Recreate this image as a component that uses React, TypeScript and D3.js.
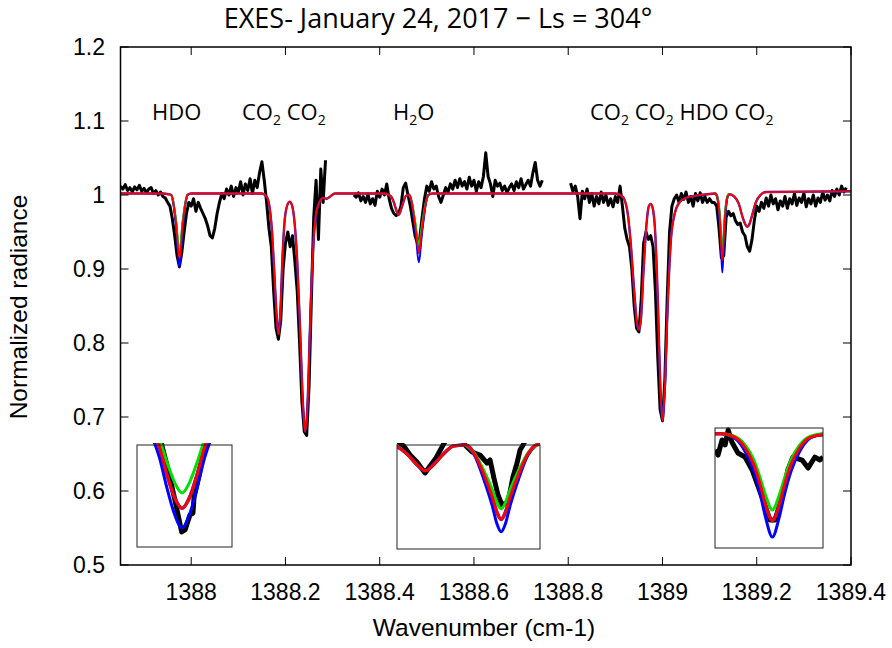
import React from 'react';
import * as d3 from 'd3';

const W = 892;
const H = 648;

// ---------- axis ticks ----------
const xTickValues = [1388, 1388.2, 1388.4, 1388.6, 1388.8, 1389, 1389.2, 1389.4];
const xTickLabels = ['1388', '1388.2', '1388.4', '1388.6', '1388.8', '1389', '1389.2', '1389.4'];
const yTickValues = [0.5, 0.6, 0.7, 0.8, 0.9, 1.0, 1.1, 1.2];
const yTickLabels = ['0.5', '0.6', '0.7', '0.8', '0.9', '1', '1.1', '1.2'];

// ---------- observed spectrum (black), three segments, sampled every 0.005 cm-1 ----------
const obsStep = 0.005;
const obsStarts = [1387.85, 1388.345, 1388.805];
const obsSeg1 = [
  1.012, 1.008, 1.014, 1.006, 1.010, 1.004, 1.011, 1.007, 1.013, 1.005,
  1.009, 1.003, 1.008, 1.010, 1.002, 1.006, 1.000, 1.004, 0.998, 0.996,
  0.990, 0.985, 0.968, 0.945, 0.918, 0.903, 0.922, 0.950, 0.975, 0.990,
  0.985, 0.995, 0.978, 0.990, 0.982, 0.975, 0.968, 0.958, 0.945, 0.942,
  0.955, 0.975, 0.990, 1.002, 0.995, 1.008, 1.000, 1.012, 0.998, 1.010,
  1.004, 1.018, 1.000, 1.015, 1.006, 1.022, 1.002, 1.020, 1.010, 1.030,
  1.045, 1.020, 0.990, 0.955, 0.930, 0.870, 0.820, 0.805, 0.830, 0.900,
  0.935, 0.950, 0.930, 0.945, 0.910, 0.870, 0.800, 0.720, 0.680, 0.675,
  0.740, 0.860, 0.970, 1.020, 0.940, 1.035, 0.990, 1.047,
];
const obsSeg2 = [
  1.000, 0.997, 1.003, 0.992, 0.998, 0.990, 1.001, 0.988, 0.995, 0.986,
  1.005, 0.997, 1.008, 1.000, 1.015, 0.995, 0.982, 0.975, 0.972, 0.975,
  0.985, 1.010, 1.016, 1.000, 0.985, 0.965, 0.945, 0.935, 0.942, 0.970,
  0.995, 1.012, 1.005, 1.018, 1.008, 1.012, 0.998, 0.990, 1.000, 1.010,
  1.004, 1.015, 1.008, 1.020, 1.010, 1.022, 1.012, 1.018, 1.008, 1.024,
  1.012, 1.020, 1.005, 1.018, 1.010, 1.025, 1.057, 1.025, 1.015, 0.998,
  1.020, 1.012, 1.016, 1.006, 1.012, 1.003, 1.010, 1.015, 1.006, 1.018,
  1.010, 1.022, 1.008, 1.014, 1.020, 1.012, 1.030, 1.044, 1.020, 1.012,
  1.020,
];
const obsSeg3 = [
  1.016, 1.005, 1.012, 0.998, 0.968, 1.005, 0.995, 1.008, 0.990, 1.002,
  0.985, 0.998, 0.988, 1.004, 0.990, 1.000, 0.986, 0.995, 0.984, 0.998,
  0.990, 1.012, 0.985, 0.955, 0.940, 0.930, 0.900, 0.850, 0.820, 0.815,
  0.860, 0.935, 0.950, 0.940, 0.945, 0.930, 0.870, 0.780, 0.710, 0.695,
  0.750, 0.860, 0.950, 0.985, 0.995, 1.000, 0.990, 1.002, 0.994, 1.004,
  0.990, 0.998, 0.985, 1.002, 0.992, 1.003, 0.990, 0.998, 0.990, 0.995,
  0.990, 0.990, 0.985, 0.955, 0.915, 0.918, 0.970, 0.978, 0.972, 0.975,
  0.965, 0.960, 0.962, 0.950, 0.945, 0.930, 0.924, 0.940, 0.966, 0.985,
  0.978, 0.990, 0.982, 0.996, 0.985, 1.000, 0.988, 0.995, 0.980, 0.992,
  0.985, 0.998, 0.982, 0.995, 0.988, 1.002, 0.986, 0.996, 0.990, 1.003,
  0.984, 0.995, 0.988, 1.000, 0.985, 0.996, 0.990, 1.004, 0.993, 1.000,
  0.992, 1.006, 0.998, 1.008, 1.000, 1.012, 1.004, 1.010,
];

// ---------- observed spectrum at full resolution inside the three zoom boxes ----------
const zoomObs1: [number, number][] = [
  [1387.9665, 0.975], [1387.9696, 0.9565], [1387.9713, 0.94], [1387.9731, 0.9204], [1387.9749, 0.8994],
  [1387.9758, 0.9007], [1387.9771, 0.9105], [1387.9779, 0.9118], [1387.9782, 0.9223],
  [1387.9798, 0.9401], [1387.9811, 0.9565], [1387.983, 0.975],
];
const zoomObs2: [number, number][] = [
  [1388.424, 1.004], [1388.4278, 0.999], [1388.4314, 0.9895], [1388.4353, 0.9822], [1388.4399, 0.9707],
  [1388.4427, 0.978], [1388.4461, 0.9864], [1388.4501, 1.0], [1388.452, 1.006],
  [1388.461, 1.006], [1388.4625, 1.0], [1388.4665, 0.9927], [1388.471, 0.9895], [1388.475, 0.9811],
  [1388.4767, 0.9843], [1388.4789, 0.9654], [1388.4812, 0.9476], [1388.4835, 0.9371],
  [1388.4869, 0.9403], [1388.4897, 0.9665], [1388.492, 0.9811], [1388.4937, 0.9948],
  [1388.4954, 1.0], [1388.497, 1.006],
];
const zoomObs3: [number, number][] = [
  [1389.11, 0.9852], [1389.1109, 0.98], [1389.1121, 0.9956], [1389.113, 0.9904], [1389.1139, 1.0059],
  [1389.115, 0.9935], [1389.1168, 0.9821], [1389.1189, 0.9779], [1389.121, 0.9645],
  [1389.1239, 0.9365], [1389.1263, 0.9126], [1389.1278, 0.9126], [1389.1299, 0.9365],
  [1389.1316, 0.9645], [1389.1331, 0.9779], [1389.1358, 0.9748], [1389.1376, 0.9665],
  [1389.1396, 0.9779], [1389.1411, 0.9748], [1389.142, 0.9779],
];

// ---------- model (red), [wavenumber, radiance] ----------
const modelRed: [number, number][] = [
  [1387.85, 1.002], [1387.94, 1.002], [1387.952, 1.001],
  [1387.958, 1.0], [1387.962, 0.99], [1387.966, 0.972], [1387.969, 0.955], [1387.971, 0.937],
  [1387.973, 0.922], [1387.975, 0.915], [1387.977, 0.922], [1387.979, 0.937], [1387.981, 0.955],
  [1387.984, 0.972], [1387.988, 0.99], [1387.992, 1.0], [1388.0, 1.002],
  [1388.15, 1.002], [1388.16, 0.998], [1388.166, 0.985], [1388.171, 0.955], [1388.176, 0.9],
  [1388.181, 0.84], [1388.185, 0.812], [1388.189, 0.84], [1388.194, 0.92], [1388.199, 0.97],
  [1388.205, 0.988], [1388.209, 0.991], [1388.214, 0.986], [1388.219, 0.965], [1388.225, 0.91],
  [1388.231, 0.82], [1388.237, 0.72], [1388.242, 0.68], [1388.247, 0.72], [1388.252, 0.82],
  [1388.258, 0.92], [1388.264, 0.97], [1388.272, 0.99], [1388.28, 0.996], [1388.287, 0.995],
  [1388.295, 0.998], [1388.305, 1.002],
  [1388.41, 1.002], [1388.424, 0.998], [1388.43, 0.99], [1388.435, 0.98], [1388.44, 0.973],
  [1388.445, 0.98], [1388.45, 0.99], [1388.456, 0.999], [1388.463, 1.0],
  [1388.468, 0.99], [1388.473, 0.97], [1388.478, 0.945], [1388.4805, 0.93], [1388.483, 0.922],
  [1388.4855, 0.93], [1388.488, 0.945], [1388.493, 0.97], [1388.498, 0.99], [1388.503, 1.0],
  [1388.512, 1.002],
  [1388.9, 1.002], [1388.915, 0.998], [1388.925, 0.98], [1388.932, 0.94], [1388.94, 0.87],
  [1388.946, 0.826], [1388.95, 0.818], [1388.954, 0.83], [1388.96, 0.9], [1388.966, 0.96],
  [1388.971, 0.985], [1388.975, 0.988], [1388.979, 0.983], [1388.984, 0.955], [1388.99, 0.86],
  [1388.995, 0.75], [1389.0, 0.695], [1389.005, 0.74], [1389.011, 0.85], [1389.018, 0.94],
  [1389.026, 0.975], [1389.036, 0.99], [1389.05, 0.996], [1389.07, 0.999], [1389.095, 1.001],
  [1389.112, 1.002],
  [1389.116, 0.998], [1389.119, 0.987], [1389.1215, 0.97], [1389.1235, 0.948], [1389.125, 0.928],
  [1389.127, 0.912], [1389.129, 0.928], [1389.1305, 0.948], [1389.1325, 0.97], [1389.135, 0.987],
  [1389.138, 0.998], [1389.142, 1.001],
  [1389.152, 0.998], [1389.162, 0.988], [1389.17, 0.97], [1389.176, 0.96], [1389.18, 0.957],
  [1389.184, 0.96], [1389.19, 0.972], [1389.198, 0.99], [1389.208, 1.0], [1389.22, 1.004],
  [1389.4, 1.005],
];

// ---------- alternative models at the HDO / H2O lines ----------
const dipWaves1 = [1387.958, 1387.962, 1387.966, 1387.969, 1387.971, 1387.973, 1387.975, 1387.977, 1387.979, 1387.981, 1387.984, 1387.988, 1387.992];
const greenDip1 = [1.0, 0.991, 0.975, 0.96, 0.945, 0.932, 0.925, 0.932, 0.945, 0.96, 0.975, 0.991, 1.0];
const blueDip1 = [1.0, 0.989, 0.968, 0.948, 0.928, 0.911, 0.902, 0.911, 0.928, 0.948, 0.968, 0.989, 1.0];

const dipWaves2 = [1388.463, 1388.468, 1388.473, 1388.478, 1388.4805, 1388.483, 1388.4855, 1388.488, 1388.493, 1388.498, 1388.503];
const greenDip2 = [1.0, 0.991, 0.974, 0.953, 0.94, 0.933, 0.94, 0.953, 0.974, 0.991, 1.0];
const blueDip2 = [1.0, 0.989, 0.965, 0.936, 0.918, 0.909, 0.918, 0.936, 0.965, 0.989, 1.0];

const dipWaves3 = [1389.112, 1389.116, 1389.119, 1389.1215, 1389.1235, 1389.125, 1389.127, 1389.129, 1389.1305, 1389.1325, 1389.135, 1389.138, 1389.142];
const greenDip3 = [1.002, 0.999, 0.99, 0.975, 0.955, 0.938, 0.923, 0.938, 0.955, 0.975, 0.99, 0.999, 1.002];
const blueDip3 = [1.002, 0.997, 0.983, 0.963, 0.938, 0.915, 0.895, 0.915, 0.938, 0.963, 0.983, 0.997, 1.002];

// ---------- species labels: [text, subscript] ----------
const speciesGroups: { x: number; parts: [string, string][] }[] = [
  { x: 152, parts: [['HDO', '']] },
  { x: 242, parts: [['CO', '2'], [' CO', '2']] },
  { x: 393, parts: [['H', '2'], ['O', '']] },
  { x: 590, parts: [['CO', '2'], [' CO', '2'], [' HDO', ''], [' CO', '2']] },
];

// ---------- layout ----------
const plot = { left: 120.5, right: 851, top: 47, bottom: 565 };
const insets = [
  { x0: 137, x1: 232, y0: 445, y1: 547, w: [1387.963, 1387.9883], v: [0.8895, 0.9565] },
  { x0: 397, x1: 540, y0: 445, y1: 549, w: [1388.424, 1388.505], v: [0.891, 1.0] },
  { x0: 715, x1: 823, y0: 428, y1: 548, w: [1389.110, 1389.142], v: [0.8836, 1.008] },
];

const sans = '"Liberation Sans", Arial, Helvetica, sans-serif';
const labelFont = '"Open Sans", "Noto Sans", sans-serif';

function segPoints(start: number, vals: number[]): [number, number][] {
  return vals.map((v, i) => [start + i * obsStep, v] as [number, number]);
}

export default function App() {
  const x = d3.scaleLinear().domain([1387.85, 1389.4]).range([plot.left, plot.right]);
  const y = d3.scaleLinear().domain([0.5, 1.2]).range([plot.bottom, plot.top]);

  const obsSegs = [
    segPoints(obsStarts[0], obsSeg1),
    segPoints(obsStarts[1], obsSeg2),
    segPoints(obsStarts[2], obsSeg3),
  ];
  const zoomObs = [zoomObs1, zoomObs2, zoomObs3];
  const waves = [dipWaves1, dipWaves2, dipWaves3];
  const greens = [greenDip1, greenDip2, greenDip3].map((g, k) => g.map((v, i) => [waves[k][i], v] as [number, number]));
  const blues = [blueDip1, blueDip2, blueDip3].map((b, k) => b.map((v, i) => [waves[k][i], v] as [number, number]));

  const mkLine = (sx: d3.ScaleLinear<number, number>, sy: d3.ScaleLinear<number, number>, smooth: boolean) =>
    d3.line<[number, number]>().x(d => sx(d[0])).y(d => sy(d[1])).curve(smooth ? d3.curveMonotoneX : d3.curveLinear);

  const renderCurves = (sx: any, sy: any, obs: [number, number][][], obsW: number, modW: number, keyp: string) => {
    const lo = mkLine(sx, sy, false);
    const lm = mkLine(sx, sy, true);
    return (
      <g>
        {obs.map((s, i) => (
          <path key={keyp + 'o' + i} d={lo(s) || ''} fill="none" stroke="#000" strokeWidth={obsW} strokeLinejoin="round" />
        ))}
        <path d={lm(modelRed) || ''} fill="none" stroke="#2020d0" strokeWidth={modW + 0.6} />
        {blues.map((b, i) => (
          <path key={keyp + 'b' + i} d={lm(b) || ''} fill="none" stroke="#0000ff" strokeWidth={modW} />
        ))}
        {greens.map((g, i) => (
          <path key={keyp + 'g' + i} d={lm(g) || ''} fill="none" stroke="#00e000" strokeWidth={modW} />
        ))}
        <path d={lm(modelRed) || ''} fill="none" stroke="#ff0000" strokeWidth={modW} />
      </g>
    );
  };

  return (
    <svg width={W} height={H} style={{ position: 'absolute', left: 0, top: 0, background: '#fff' }}>
      <defs>
        <clipPath id="plotClip">
          <rect x={plot.left} y={plot.top} width={plot.right - plot.left} height={plot.bottom - plot.top} />
        </clipPath>
        {insets.map((b, i) => (
          <clipPath id={'inset' + i} key={'c' + i}>
            <rect x={b.x0} y={b.y0 - 2} width={b.x1 - b.x0} height={b.y1 - b.y0 + 2} />
          </clipPath>
        ))}
      </defs>

      <text x={438} y={28} textAnchor="middle" fontFamily={labelFont} fontSize={27}>
        EXES- January 24, 2017 − Ls = 304°
      </text>

      <g clipPath="url(#plotClip)">{renderCurves(x, y, obsSegs, 3, 1.8, 'm')}</g>

      {insets.map((b, i) => {
        const sx = d3.scaleLinear().domain(b.w).range([b.x0, b.x1]);
        const sy = d3.scaleLinear().domain(b.v).range([b.y1, b.y0]);
        return (
          <g key={'in' + i}>
            <rect x={b.x0} y={b.y0} width={b.x1 - b.x0} height={b.y1 - b.y0} fill="#fff" stroke="none" />
            <g clipPath={`url(#inset${i})`}>{renderCurves(sx, sy, [zoomObs[i]], 5, 3, 'i' + i)}</g>
            <rect x={b.x0} y={b.y0} width={b.x1 - b.x0} height={b.y1 - b.y0} fill="none" stroke="#222" strokeWidth={1} />
          </g>
        );
      })}

      {/* frame */}
      <rect x={plot.left} y={plot.top} width={plot.right - plot.left} height={plot.bottom - plot.top} fill="none" stroke="#000" strokeWidth={1.5} />
      {xTickValues.map((t, i) => (
        <g key={'xt' + i}>
          <line x1={x(t)} x2={x(t)} y1={plot.bottom} y2={plot.bottom - 8} stroke="#000" strokeWidth={1} />
          <line x1={x(t)} x2={x(t)} y1={plot.top} y2={plot.top + 8} stroke="#000" strokeWidth={1} />
          <text x={x(t)} y={600} textAnchor="middle" fontFamily={sans} fontSize={23}>{xTickLabels[i]}</text>
        </g>
      ))}
      {yTickValues.map((t, i) => (
        <g key={'yt' + i}>
          <line x1={plot.left} x2={plot.left + 8} y1={y(t)} y2={y(t)} stroke="#000" strokeWidth={1} />
          <line x1={plot.right} x2={plot.right - 8} y1={y(t)} y2={y(t)} stroke="#000" strokeWidth={1} />
          <text x={105} y={y(t)} dy="0.36em" textAnchor="end" fontFamily={sans} fontSize={23}>{yTickLabels[i]}</text>
        </g>
      ))}

      <text x={484} y={636} textAnchor="middle" fontFamily={sans} fontSize={24.5}>Wavenumber (cm-1)</text>
      <text transform={`translate(27, 307) rotate(-90)`} textAnchor="middle" fontFamily={sans} fontSize={24.5}>Normalized radiance</text>

      {speciesGroups.map((g, i) => (
        <text key={'sp' + i} x={g.x} y={120} fontFamily={labelFont} fontSize={22}>
          {g.parts.map((p, j) => {
            const prevSub = j > 0 && g.parts[j - 1][1] !== '';
            return (
              <React.Fragment key={j}>
                <tspan dy={prevSub ? -5 : 0}>{p[0]}</tspan>
                {p[1] ? <tspan fontSize={14} dy={5}>{p[1]}</tspan> : null}
              </React.Fragment>
            );
          })}
        </text>
      ))}
    </svg>
  );
}
